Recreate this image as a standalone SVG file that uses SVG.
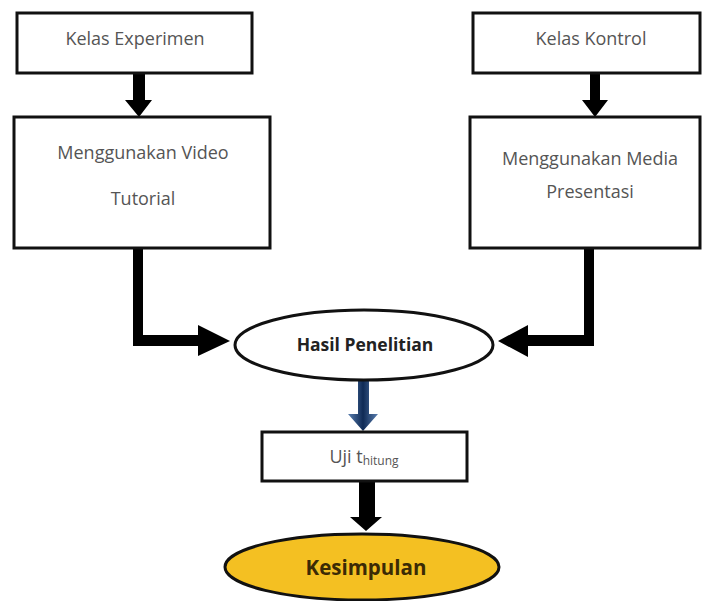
<svg xmlns="http://www.w3.org/2000/svg" width="702" height="601" viewBox="0 0 702 601">
<defs>
<style>
.box{fill:#fff;stroke:#111;stroke-width:3}
.t{font-family:"Open Sans","Liberation Sans",sans-serif;font-size:18px;fill:#555;text-anchor:middle}
.b{font-family:"Open Sans","Liberation Sans",sans-serif;font-weight:bold;fill:#222;text-anchor:middle}
.arr{fill:#000}
</style>
<linearGradient id="bl" x1="0" y1="0" x2="1" y2="0">
<stop offset="0" stop-color="#5a7fb0"/>
<stop offset="0.5" stop-color="#0f2a55"/>
<stop offset="1" stop-color="#5a7fb0"/>
</linearGradient>
</defs>
<rect width="702" height="601" fill="#fff"/>
<g id="connectors">
<polygon class="arr" points="133,74 145,74 145,100 152,100 139,117 125,100 133,100"/>
<polygon class="arr" points="590,74 600,74 600,100 608,100 595,117 582,100 590,100"/>
<polygon class="arr" points="133,248 143,248 143,335 198,335 198,325 230,341 198,356 198,346 133,346"/>
<polygon class="arr" points="584,248 594,248 594,346 528,346 528,357 498,341 528,325 528,335 584,335"/>
<polygon fill="url(#bl)" points="358,380 369,380 369,414 378,414 363,431 348,414 358,414"/>
<polygon class="arr" points="359,481 375,481 375,517 382,517 366,531 350,517 359,517"/>
</g>
<g id="kelas-experimen">
<rect class="box" x="17" y="13" width="235" height="60"/>
<text class="t" x="135" y="45">Kelas Experimen</text>
</g>
<g id="kelas-kontrol">
<rect class="box" x="473" y="13" width="227" height="60"/>
<text class="t" x="591" y="45">Kelas Kontrol</text>
</g>
<g id="video-tutorial">
<rect class="box" x="14" y="117" width="256" height="131"/>
<text class="t" x="143" y="159">Menggunakan Video</text>
<text class="t" x="143" y="205">Tutorial</text>
</g>
<g id="media-presentasi">
<rect class="box" x="470" y="117" width="230" height="131"/>
<text class="t" x="590" y="165">Menggunakan Media</text>
<text class="t" x="590" y="198">Presentasi</text>
</g>
<g id="hasil-penelitian">
<ellipse cx="364" cy="345" rx="129" ry="35" fill="#fff" stroke="#111" stroke-width="3"/>
<text class="b" x="365" y="351" font-size="17.5">Hasil Penelitian</text>
</g>
<g id="uji">
<rect class="box" x="262" y="432" width="205" height="49"/>
<text class="t" x="364" y="463">Uji t<tspan font-size="12" dy="2">hitung</tspan></text>
</g>
<g id="kesimpulan">
<ellipse cx="362" cy="567" rx="137" ry="33" fill="#f4c022" stroke="#111" stroke-width="3"/>
<text class="b" x="366" y="575" font-size="20.5" style="fill:#3b2a05">Kesimpulan</text>
</g>
</svg>
